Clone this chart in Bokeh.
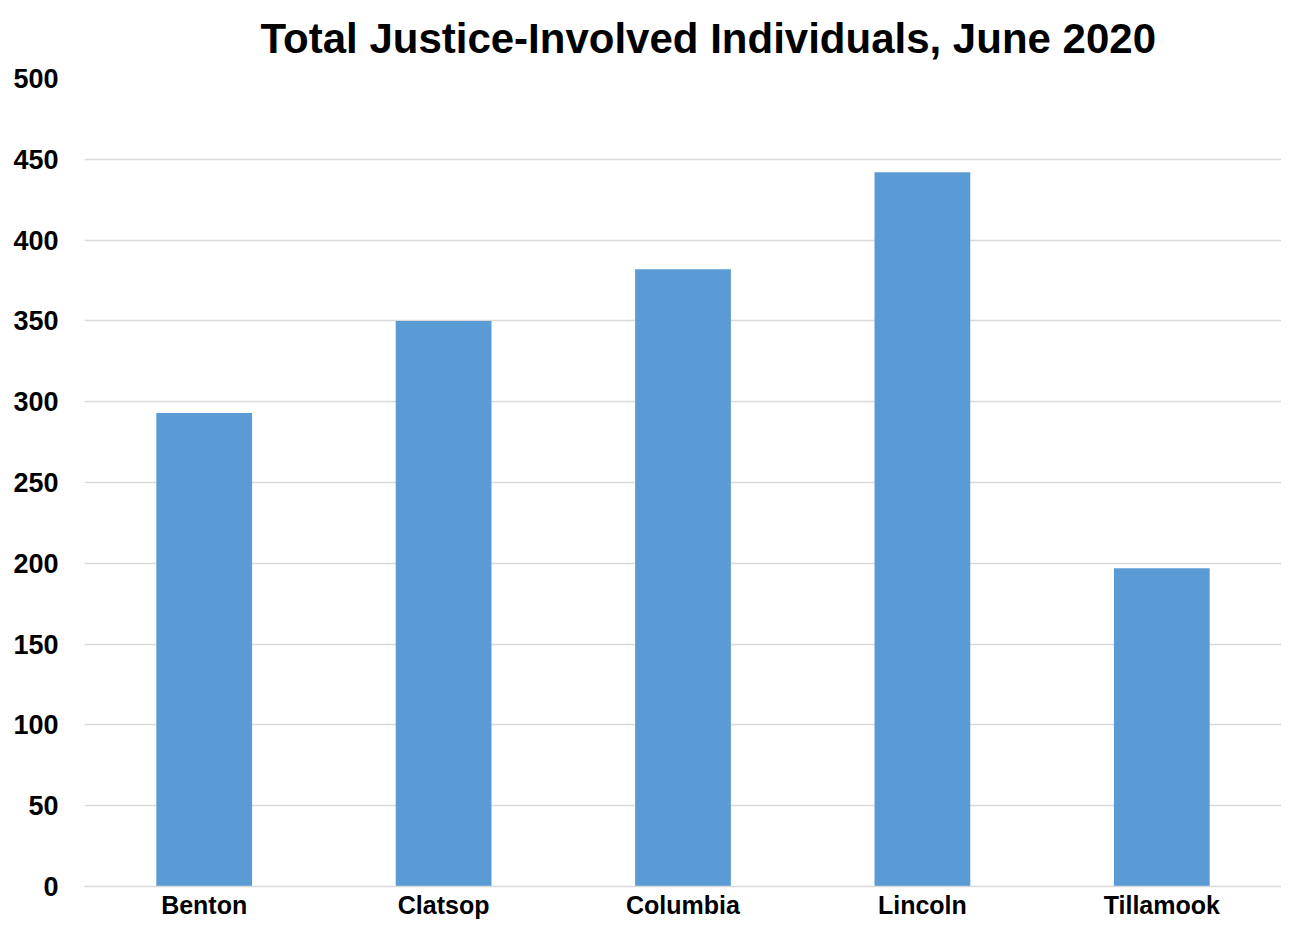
from bokeh.plotting import figure
from bokeh.models import Range1d, FixedTicker
from bokeh.embed import file_html
from bokeh.resources import INLINE

counties = ["Benton", "Clatsop", "Columbia", "Lincoln", "Tillamook"]
totals = [293, 350, 382, 442, 197]
y_ticks = [0, 50, 100, 150, 200, 250, 300, 350, 400, 450, 500]
title_text = "Total Justice-Involved Individuals, June 2020"

FONT = "Liberation Sans"

p = figure(x_range=counties, y_range=Range1d(0, 500),
           frame_width=1197, frame_height=808,
           output_backend="svg", toolbar_location=None, title=title_text)
p.min_border_left = 84
p.min_border_right = 0
p.min_border_top = 0
p.min_border_bottom = 0

p.vbar(x=counties, top=totals, width=0.4, color="#5b9bd5", line_color=None)

p.title.text_font = FONT
p.title.text_font_size = "42px"
p.title.text_font_style = "bold"
p.title.text_color = "black"
p.title.align = "left"
p.title.offset = 176
p.title.standoff = 29
p.title.vertical_align = "top"

p.outline_line_color = None
p.xgrid.grid_line_color = None
p.ygrid.grid_line_color = "#d9d9d9"
p.ygrid.grid_line_width = 1.3
p.yaxis.ticker = FixedTicker(ticks=y_ticks)

p.yaxis.axis_line_color = None
p.yaxis.major_tick_line_color = None
p.yaxis.minor_tick_line_color = None
p.yaxis.major_tick_out = 0
p.yaxis.minor_tick_out = 0
p.yaxis.major_label_text_font = FONT
p.yaxis.major_label_text_font_size = "27px"
p.yaxis.major_label_text_font_style = "bold"
p.yaxis.major_label_text_color = "black"
p.yaxis.major_label_standoff = 26

p.xaxis.axis_line_color = "#d9d9d9"
p.xaxis.axis_line_width = 1.3
p.xaxis.major_tick_line_color = None
p.xaxis.minor_tick_line_color = None
p.xaxis.major_tick_out = 0
p.xaxis.minor_tick_out = 0
p.xaxis.major_label_text_font = FONT
p.xaxis.major_label_text_font_size = "25px"
p.xaxis.major_label_text_font_style = "bold"
p.xaxis.major_label_text_color = "black"
p.xaxis.major_label_standoff = 4

open("out.html", "w").write(file_html(p, INLINE))
